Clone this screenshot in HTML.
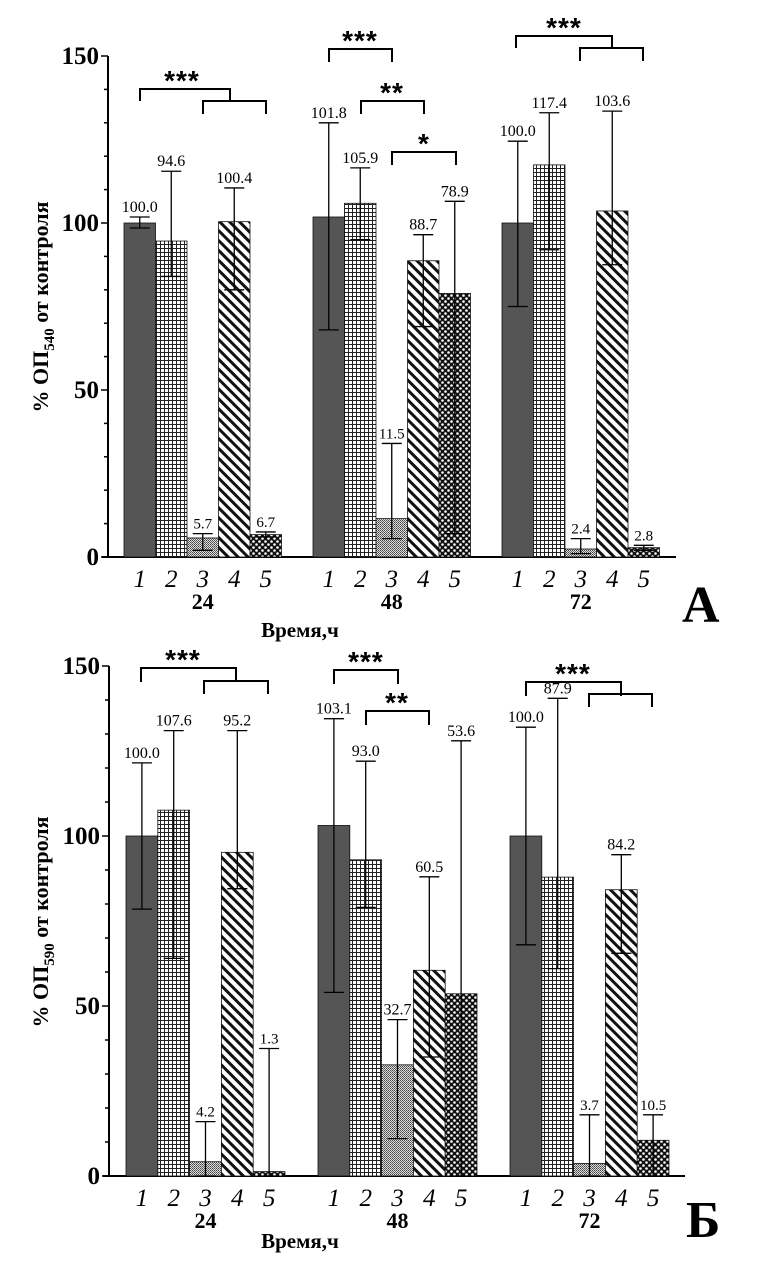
<!DOCTYPE html>
<html><head><meta charset="utf-8">
<style>
html,body{margin:0;padding:0;background:#fff;}
svg{display:block;font-family:"Liberation Serif","DejaVu Serif",serif;}
</style></head>
<body>
<svg id="chart" width="761" height="1267" viewBox="0 0 761 1267" xmlns="http://www.w3.org/2000/svg">
<defs>
<pattern id="pGrid" width="4" height="4" patternUnits="userSpaceOnUse"><rect width="4" height="4" fill="#fff"/><path d="M0 0.5H4M0.5 0V4" stroke="#222" stroke-width="1"/></pattern>
<pattern id="pFine" width="2" height="2" patternUnits="userSpaceOnUse"><rect width="2" height="2" fill="#ddd"/><rect width="1" height="1" fill="#444"/><rect x="1" y="1" width="1" height="1" fill="#666"/></pattern>
<pattern id="pDiag" width="7" height="7" patternUnits="userSpaceOnUse" patternTransform="rotate(45)"><rect width="7" height="7" fill="#fff"/><rect width="7" height="3" fill="#111"/></pattern>
<pattern id="pCross" width="6" height="6" patternUnits="userSpaceOnUse"><rect width="6" height="6" fill="#111"/><circle cx="1.5" cy="1.5" r="1.3" fill="#fff"/><circle cx="4.5" cy="4.5" r="1.3" fill="#fff"/></pattern>
</defs>
</svg>
<script>
// Panel A (OD540) data
const categories = ["1","2","3","4","5"];
const groups = ["24","48","72"];
const valuesA = [[100.0,94.6,5.7,100.4,6.7],[101.8,105.9,11.5,88.7,78.9],[100.0,117.4,2.4,103.6,2.8]];
const upperA = [[101.8,115.5,7,110.5,7.5],[130,116.5,34,96.5,106.5],[124.5,133,5.5,133.5,3.5]];
const lowerA = [[98.5,84,2,80,6],[68,95,5.5,69,7],[75,92,1,87.5,2]];
// Panel B (OD590) data
const valuesB = [[100.0,107.6,4.2,95.2,1.3],[103.1,93.0,32.7,60.5,53.6],[100.0,87.9,3.7,84.2,10.5]];
const upperB = [[121.5,131,16,131,37.5],[134.5,122,46,88,128],[132,140.5,18,94.5,18]];
const lowerB = [[78.5,64,0,84.5,0],[54,79,11,35,0],[68,61,0,65.5,0]];
const yTicks = [0,50,100,150];

const NS="http://www.w3.org/2000/svg";
const svg=document.getElementById('chart');
function mk(tag,attrs,parent,text){const e=document.createElementNS(NS,tag);for(const k in attrs)e.setAttribute(k,attrs[k]);if(text!==undefined)e.textContent=text;(parent||svg).appendChild(e);return e;}
const fills=["#555","url(#pGrid)","url(#pFine)","url(#pDiag)","url(#pCross)"];

function panel(cfg){
  const g=mk('g',{});
  
  
  const y=v=>cfg.y0-(v/150)*(cfg.y0-cfg.y150);
  const bx=(gi,ci)=>cfg.gx0+gi*cfg.gstep+ci*cfg.bw;
  const ax=mk('line',{x1:cfg.ax,y1:y(150),x2:cfg.ax,y2:y(0),stroke:'#000','stroke-width':2},g);
  
  const xa=mk('line',{x1:cfg.ax-6,y1:y(0),x2:cfg.axEnd,y2:y(0),stroke:'#000','stroke-width':2},g);
  
  for(let v=0;v<=150;v+=10){mk('line',{x1:cfg.ax-(v%50===0?7:4),y1:y(v),x2:cfg.ax,y2:y(v),stroke:'#000','stroke-width':1.5},g);}
  yTicks.forEach(t=>{const tl=mk('text',{x:cfg.ax-9,y:y(t)+8,'text-anchor':'end','font-size':25,'font-weight':'bold'},g,String(t));
    });
  groups.forEach((gl,gi)=>{
    categories.forEach((c,ci)=>{
      const v=cfg.vals[gi][ci],x=bx(gi,ci);
      const r=mk('rect',{x:x,y:y(v),width:cfg.bw,height:y(0)-y(v),fill:fills[ci],stroke:'#111','stroke-width':0.8},g);
      
      const cx=x+cfg.bw/2,yu=y(cfg.up[gi][ci]),yl=y(cfg.lo[gi][ci]);
      const eb=mk('path',{d:`M${cx} ${yu}V${yl}M${cx-10} ${yu}H${cx+10}M${cx-10} ${yl}H${cx+10}`,stroke:'#000','stroke-width':1.3,fill:'none'},g);
      
      const small=v<15&&cfg.up[gi][ci]<40;
      const lb=mk('text',{x:cx,y:yu-5,'text-anchor':'middle','font-size':small?15:16},g,v.toFixed(1));
      
      const xl=mk('text',{x:cx,y:y(0)+30,'text-anchor':'middle','font-size':25,'font-style':'italic'},g,c);
      
    });
    const gt=mk('text',{x:bx(gi,2)+cfg.bw/2,y:y(0)+52,'text-anchor':'middle','font-size':22,'font-weight':'bold'},g,gl);
    
  });
  cfg.br.forEach(b=>{
    const p=mk('path',{d:`M${b[0]} ${b[3]}V${b[2]}H${b[1]}V${b[3]}`,stroke:'#000','stroke-width':2,fill:'none'},g);
    
    if(b[4]){const s=mk('text',{x:b[5],y:b[2]+1,'text-anchor':'middle','font-size':28,'font-weight':'bold','font-family':'Liberation Sans, sans-serif','letter-spacing':'1'},g,b[4]);
      }
  });
  const xt=mk('text',{x:300,y:cfg.xtY,'text-anchor':'middle','font-size':21,'font-weight':'bold'},g,'Время,ч');
  
  const yt=mk('text',{transform:`translate(48 ${cfg.ytY}) rotate(-90)`,'text-anchor':'middle','font-size':22,'font-weight':'bold'},g);
  
  mk('tspan',{},yt,'% ОП');mk('tspan',{dy:6,'font-size':15},yt,cfg.sub);mk('tspan',{dy:-6},yt,' от контроля');
  const pl=mk('text',{x:cfg.plX,y:cfg.plY,'font-size':52,'font-weight':'bold'},g,cfg.letter);
  
}

panel({name:'panel-a',vals:valuesA,up:upperA,lo:lowerA,y0:557,y150:56,ax:108,axEnd:676,gx0:124,gstep:189,bw:31.5,
  sub:'540',ytY:307,xtY:637,letter:'А',plX:682,plY:622,
  br:[[140,230,89,101,'***',182],[203,266,101,114,'',0],[329,392,49,62,'***',360],[361,424,101,114,'**',392],[392,456,152,165,'*',424],
      [516,612,36,48,'***',564],[580,643,48,61,'',0]]});
panel({name:'panel-b',vals:valuesB,up:upperB,lo:lowerB,y0:1176,y150:666,ax:109,axEnd:685,gx0:126,gstep:192,bw:31.8,
  sub:'590',ytY:922,xtY:1248,letter:'Б',plX:686,plY:1237,
  br:[[141,236,668,682,'***',183],[204,268,681,694,'',0],[334,398,670,684,'***',366],[366,429,711,725,'**',397],
      [526,621,682,696,'***',573],[589,652,694,707,'',0]]});
</script>
</body></html>
